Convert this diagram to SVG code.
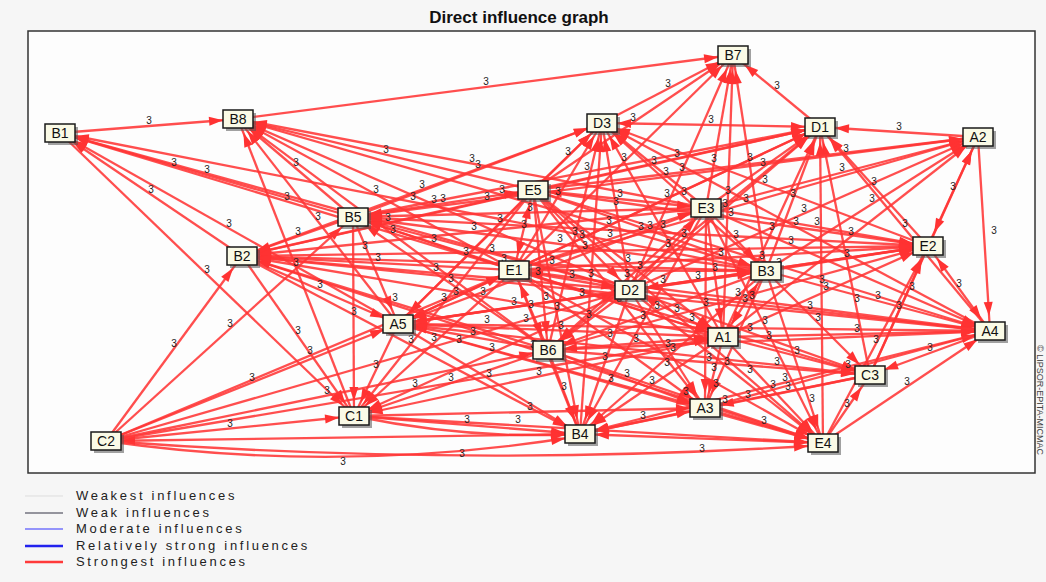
<svg xmlns="http://www.w3.org/2000/svg" width="1046" height="582" viewBox="0 0 1046 582">
<defs>
<marker id="ah" markerUnits="userSpaceOnUse" markerWidth="14" markerHeight="9" refX="29" refY="4.5" orient="auto-start-reverse" overflow="visible"><path d="M0,0 L14,4.5 L0,9 z" fill="#ff3232"/></marker>
<style>
.e line,.e path{stroke:#ff3535;stroke-width:2.3;stroke-opacity:0.88;fill:none;marker-end:url(#ah)}
.e .bi{marker-start:url(#ah)}
.lb text{font-family:"Liberation Sans",Arial,sans-serif;font-size:10px;fill:#222;text-anchor:middle}
.nd rect.s{fill:#555;opacity:0.55}
.nd rect.b{fill:#fafae6;stroke:#1a1a1a;stroke-width:1.5}
.nd text{font-family:"Liberation Sans",Arial,sans-serif;font-size:14px;fill:#111;text-anchor:middle}
.lg text{font-family:"Liberation Sans",Arial,sans-serif;font-size:13px;fill:#222;letter-spacing:2.7px}
</style>
</defs>
<rect x="0" y="0" width="1046" height="582" fill="#f6f6f6"/>
<text x="519" y="23" font-family="Liberation Sans,Arial,sans-serif" font-size="17" font-weight="bold" fill="#111" text-anchor="middle">Direct influence graph</text>
<rect x="28" y="31" width="1007" height="442" fill="#fdfdfd" stroke="#333" stroke-width="1.5"/>
<text transform="translate(1037,345) rotate(90)" font-family="Liberation Sans,Arial,sans-serif" font-size="9" fill="#444">© LIPSOR-EPITA-MICMAC</text>
<g id="connectors" class="e">
<line x1="60" y1="133" x2="238" y2="119"/>
<line x1="353" y1="217" x2="60" y2="133"/>
<line x1="766" y1="271" x2="60" y2="133"/>
<line x1="514" y1="270" x2="60" y2="133"/>
<line x1="242" y1="256" x2="60" y2="133"/>
<line x1="398" y1="324" x2="60" y2="133"/>
<line x1="630" y1="290" x2="60" y2="133"/>
<line x1="60" y1="133" x2="354" y2="416"/>
<line x1="238" y1="119" x2="733" y2="55"/>
<line x1="533" y1="190" x2="238" y2="119"/>
<line x1="706" y1="208" x2="238" y2="119"/>
<line x1="353" y1="217" x2="238" y2="119"/>
<line x1="514" y1="270" x2="238" y2="119"/>
<line x1="630" y1="290" x2="238" y2="119"/>
<line x1="766" y1="271" x2="238" y2="119"/>
<line x1="398" y1="324" x2="238" y2="119"/>
<line x1="548" y1="350" x2="238" y2="119"/>
<line x1="354" y1="416" x2="238" y2="119"/>
<line x1="602" y1="123" x2="733" y2="55"/>
<line x1="533" y1="190" x2="733" y2="55"/>
<line x1="630" y1="290" x2="733" y2="55"/>
<line x1="514" y1="270" x2="733" y2="55"/>
<line x1="706" y1="208" x2="733" y2="55"/>
<line x1="766" y1="271" x2="733" y2="55"/>
<line x1="723" y1="337" x2="733" y2="55"/>
<line x1="820" y1="127" x2="733" y2="55"/>
<line x1="533" y1="190" x2="602" y2="123"/>
<line class="bi" x1="602" y1="123" x2="820" y2="127"/>
<line x1="706" y1="208" x2="602" y2="123"/>
<line x1="353" y1="217" x2="602" y2="123"/>
<line x1="514" y1="270" x2="602" y2="123"/>
<line x1="630" y1="290" x2="602" y2="123"/>
<line x1="766" y1="271" x2="602" y2="123"/>
<line x1="723" y1="337" x2="602" y2="123"/>
<line x1="548" y1="350" x2="602" y2="123"/>
<line x1="928" y1="246" x2="602" y2="123"/>
<line x1="398" y1="324" x2="602" y2="123"/>
<line x1="242" y1="256" x2="602" y2="123"/>
<line x1="990" y1="331" x2="602" y2="123"/>
<line x1="580" y1="434" x2="602" y2="123"/>
<line x1="978" y1="137" x2="820" y2="127"/>
<line x1="533" y1="190" x2="820" y2="127"/>
<line x1="706" y1="208" x2="820" y2="127"/>
<line x1="766" y1="271" x2="820" y2="127"/>
<line x1="630" y1="290" x2="820" y2="127"/>
<line x1="928" y1="246" x2="820" y2="127"/>
<line x1="723" y1="337" x2="820" y2="127"/>
<line x1="990" y1="331" x2="820" y2="127"/>
<line x1="548" y1="350" x2="820" y2="127"/>
<line x1="870" y1="375" x2="820" y2="127"/>
<line x1="823" y1="443" x2="820" y2="127"/>
<line x1="514" y1="270" x2="820" y2="127"/>
<line x1="398" y1="324" x2="820" y2="127"/>
<line x1="242" y1="256" x2="820" y2="127"/>
<line x1="353" y1="217" x2="820" y2="127"/>
<line x1="533" y1="190" x2="978" y2="137"/>
<line x1="706" y1="208" x2="978" y2="137"/>
<line x1="766" y1="271" x2="978" y2="137"/>
<line class="bi" x1="928" y1="246" x2="978" y2="137"/>
<line x1="630" y1="290" x2="978" y2="137"/>
<line x1="978" y1="137" x2="990" y2="331"/>
<line x1="723" y1="337" x2="978" y2="137"/>
<line x1="514" y1="270" x2="978" y2="137"/>
<line x1="353" y1="217" x2="978" y2="137"/>
<line x1="870" y1="375" x2="978" y2="137"/>
<line x1="706" y1="208" x2="928" y2="246"/>
<line x1="766" y1="271" x2="928" y2="246"/>
<line x1="630" y1="290" x2="928" y2="246"/>
<line x1="723" y1="337" x2="928" y2="246"/>
<line class="bi" x1="990" y1="331" x2="928" y2="246"/>
<line x1="870" y1="375" x2="928" y2="246"/>
<line x1="823" y1="443" x2="928" y2="246"/>
<line x1="533" y1="190" x2="928" y2="246"/>
<line x1="514" y1="270" x2="928" y2="246"/>
<line x1="353" y1="217" x2="928" y2="246"/>
<line x1="398" y1="324" x2="928" y2="246"/>
<line x1="548" y1="350" x2="928" y2="246"/>
<line x1="242" y1="256" x2="928" y2="246"/>
<line x1="766" y1="271" x2="990" y2="331"/>
<line x1="723" y1="337" x2="990" y2="331"/>
<line x1="990" y1="331" x2="870" y2="375"/>
<line x1="823" y1="443" x2="990" y2="331"/>
<line x1="630" y1="290" x2="990" y2="331"/>
<line x1="706" y1="208" x2="990" y2="331"/>
<line x1="514" y1="270" x2="990" y2="331"/>
<line x1="548" y1="350" x2="990" y2="331"/>
<line x1="398" y1="324" x2="990" y2="331"/>
<line x1="705" y1="408" x2="990" y2="331"/>
<line x1="533" y1="190" x2="990" y2="331"/>
<line x1="823" y1="443" x2="870" y2="375"/>
<line x1="723" y1="337" x2="870" y2="375"/>
<line x1="766" y1="271" x2="870" y2="375"/>
<line x1="630" y1="290" x2="870" y2="375"/>
<line x1="514" y1="270" x2="870" y2="375"/>
<line x1="548" y1="350" x2="870" y2="375"/>
<line x1="398" y1="324" x2="870" y2="375"/>
<line x1="723" y1="337" x2="823" y2="443"/>
<line x1="705" y1="408" x2="823" y2="443"/>
<line class="bi" x1="580" y1="434" x2="823" y2="443"/>
<line x1="630" y1="290" x2="823" y2="443"/>
<line x1="766" y1="271" x2="823" y2="443"/>
<line x1="514" y1="270" x2="823" y2="443"/>
<line x1="548" y1="350" x2="823" y2="443"/>
<line x1="398" y1="324" x2="823" y2="443"/>
<line x1="706" y1="208" x2="823" y2="443"/>
<line x1="533" y1="190" x2="823" y2="443"/>
<line x1="354" y1="416" x2="823" y2="443"/>
<line x1="242" y1="256" x2="823" y2="443"/>
<line class="bi" x1="106" y1="441" x2="580" y2="434"/>
<line x1="354" y1="416" x2="580" y2="434"/>
<line class="bi" x1="705" y1="408" x2="580" y2="434"/>
<line x1="548" y1="350" x2="580" y2="434"/>
<line x1="723" y1="337" x2="580" y2="434"/>
<line x1="630" y1="290" x2="580" y2="434"/>
<line x1="514" y1="270" x2="580" y2="434"/>
<line x1="398" y1="324" x2="580" y2="434"/>
<line x1="766" y1="271" x2="580" y2="434"/>
<line x1="706" y1="208" x2="580" y2="434"/>
<line x1="533" y1="190" x2="580" y2="434"/>
<line x1="242" y1="256" x2="580" y2="434"/>
<line x1="990" y1="331" x2="580" y2="434"/>
<line x1="870" y1="375" x2="580" y2="434"/>
<line x1="723" y1="337" x2="705" y2="408"/>
<line x1="548" y1="350" x2="705" y2="408"/>
<line x1="630" y1="290" x2="705" y2="408"/>
<line x1="514" y1="270" x2="705" y2="408"/>
<line x1="398" y1="324" x2="705" y2="408"/>
<line x1="354" y1="416" x2="705" y2="408"/>
<line x1="766" y1="271" x2="705" y2="408"/>
<line x1="706" y1="208" x2="705" y2="408"/>
<line x1="533" y1="190" x2="705" y2="408"/>
<line x1="870" y1="375" x2="705" y2="408"/>
<line x1="106" y1="441" x2="354" y2="416"/>
<line x1="398" y1="324" x2="354" y2="416"/>
<line x1="548" y1="350" x2="354" y2="416"/>
<line x1="630" y1="290" x2="354" y2="416"/>
<line x1="514" y1="270" x2="354" y2="416"/>
<line x1="533" y1="190" x2="354" y2="416"/>
<line x1="353" y1="217" x2="354" y2="416"/>
<line x1="242" y1="256" x2="354" y2="416"/>
<line x1="723" y1="337" x2="354" y2="416"/>
<line x1="106" y1="441" x2="398" y2="324"/>
<line x1="106" y1="441" x2="548" y2="350"/>
<line x1="106" y1="441" x2="514" y2="270"/>
<line x1="106" y1="441" x2="242" y2="256"/>
<line x1="106" y1="441" x2="630" y2="290"/>
<line x1="106" y1="441" x2="723" y2="337"/>
<line x1="106" y1="441" x2="353" y2="217"/>
<line x1="242" y1="256" x2="398" y2="324"/>
<line x1="353" y1="217" x2="398" y2="324"/>
<line x1="533" y1="190" x2="398" y2="324"/>
<line class="bi" x1="514" y1="270" x2="398" y2="324"/>
<line x1="630" y1="290" x2="398" y2="324"/>
<line x1="548" y1="350" x2="398" y2="324"/>
<line x1="723" y1="337" x2="398" y2="324"/>
<line x1="766" y1="271" x2="398" y2="324"/>
<line x1="706" y1="208" x2="398" y2="324"/>
<line x1="353" y1="217" x2="242" y2="256"/>
<line x1="533" y1="190" x2="242" y2="256"/>
<line x1="514" y1="270" x2="242" y2="256"/>
<line x1="630" y1="290" x2="242" y2="256"/>
<line x1="766" y1="271" x2="242" y2="256"/>
<line x1="706" y1="208" x2="242" y2="256"/>
<line x1="548" y1="350" x2="242" y2="256"/>
<line x1="723" y1="337" x2="242" y2="256"/>
<line x1="990" y1="331" x2="242" y2="256"/>
<line class="bi" x1="533" y1="190" x2="353" y2="217"/>
<line x1="514" y1="270" x2="353" y2="217"/>
<line x1="630" y1="290" x2="353" y2="217"/>
<line x1="766" y1="271" x2="353" y2="217"/>
<line x1="706" y1="208" x2="353" y2="217"/>
<line x1="548" y1="350" x2="353" y2="217"/>
<line x1="723" y1="337" x2="353" y2="217"/>
<line class="bi" x1="533" y1="190" x2="514" y2="270"/>
<line x1="533" y1="190" x2="630" y2="290"/>
<line class="bi" x1="533" y1="190" x2="706" y2="208"/>
<line x1="533" y1="190" x2="766" y2="271"/>
<line x1="533" y1="190" x2="723" y2="337"/>
<line x1="533" y1="190" x2="548" y2="350"/>
<line class="bi" x1="514" y1="270" x2="630" y2="290"/>
<line x1="514" y1="270" x2="706" y2="208"/>
<line x1="514" y1="270" x2="766" y2="271"/>
<line x1="514" y1="270" x2="723" y2="337"/>
<line class="bi" x1="514" y1="270" x2="548" y2="350"/>
<line x1="630" y1="290" x2="706" y2="208"/>
<line class="bi" x1="630" y1="290" x2="766" y2="271"/>
<line class="bi" x1="630" y1="290" x2="723" y2="337"/>
<line x1="630" y1="290" x2="548" y2="350"/>
<line x1="706" y1="208" x2="766" y2="271"/>
<line x1="706" y1="208" x2="723" y2="337"/>
<line x1="706" y1="208" x2="548" y2="350"/>
<line class="bi" x1="766" y1="271" x2="723" y2="337"/>
<line x1="766" y1="271" x2="548" y2="350"/>
<line class="bi" x1="723" y1="337" x2="548" y2="350"/>
<path d="M106,441 Q340,475 580,436"/>
<path d="M106,441 Q470,468 823,445"/>
<path d="M354,416 Q470,440 580,434"/>
</g>
<g id="edge-labels" class="lb">
<text x="149" y="124">3</text><text x="207" y="173">3</text><text x="413" y="200">3</text><text x="287" y="200">3</text><text x="151" y="193">3</text><text x="229" y="227">3</text><text x="174" y="166">3</text><text x="207" y="273">3</text><text x="486" y="85">3</text><text x="386" y="153">3</text><text x="472" y="162">3</text><text x="296" y="166">3</text><text x="376" y="193">3</text><text x="434" y="203">3</text><text x="502" y="193">3</text><text x="318" y="220">3</text><text x="393" y="233">3</text><text x="296" y="266">3</text>
<text x="668" y="87">3</text><text x="633" y="121">3</text><text x="682" y="171">3</text><text x="624" y="161">3</text><text x="714" y="162">3</text><text x="750" y="161">3</text><text x="728" y="194">3</text><text x="777" y="89">3</text><text x="568" y="155">3</text><text x="711" y="123">3</text><text x="654" y="164">3</text><text x="478" y="168">3</text><text x="558" y="195">3</text><text x="616" y="205">3</text><text x="684" y="195">3</text><text x="663" y="228">3</text><text x="575" y="235">3</text><text x="765" y="183">3</text><text x="500" y="222">3</text><text x="422" y="188">3</text><text x="796" y="225">3</text><text x="591" y="277">3</text>
<text x="899" y="130">3</text><text x="677" y="157">3</text><text x="763" y="166">3</text><text x="793" y="197">3</text><text x="725" y="207">3</text><text x="874" y="185">3</text><text x="772" y="230">3</text><text x="905" y="227">3</text><text x="684" y="237">3</text><text x="857" y="302">3</text><text x="822" y="283">3</text><text x="667" y="197">3</text><text x="609" y="224">3</text><text x="487" y="200">3</text><text x="587" y="170">3</text>
<text x="846" y="152">3</text><text x="842" y="171">3</text><text x="872" y="202">3</text><text x="953" y="190">3</text><text x="804" y="212">3</text><text x="994" y="234">3</text><text x="851" y="235">3</text><text x="746" y="202">3</text><text x="666" y="175">3</text><text x="912" y="290">3</text>
<text x="817" y="225">3</text><text x="847" y="257">3</text><text x="779" y="266">3</text><text x="826" y="290">3</text><text x="959" y="287">3</text><text x="899" y="309">3</text><text x="876" y="343">3</text><text x="731" y="216">3</text><text x="721" y="256">3</text><text x="641" y="230">3</text><text x="663" y="283">3</text><text x="738" y="296">3</text><text x="585" y="249">3</text>
<text x="878" y="299">3</text><text x="857" y="332">3</text><text x="930" y="351">3</text><text x="907" y="385">3</text><text x="810" y="309">3</text><text x="791" y="244">3</text><text x="752" y="299">3</text><text x="769" y="339">3</text><text x="487" y="323">3</text><text x="848" y="368">3</text><text x="762" y="259">3</text>
<text x="847" y="407">3</text><text x="797" y="354">3</text><text x="818" y="321">3</text><text x="750" y="331">3</text><text x="692" y="321">3</text><text x="709" y="361">3</text><text x="777" y="365">3</text>
<text x="773" y="388">3</text><text x="764" y="424">3</text><text x="702" y="452">3</text><text x="727" y="365">3</text><text x="812" y="402">3</text><text x="748" y="398">3</text><text x="686" y="395">3</text><text x="611" y="382">3</text><text x="765" y="324">3</text><text x="750" y="373">3</text><text x="518" y="423">3</text><text x="533" y="348">3</text>
<text x="343" y="465">3</text><text x="462" y="457">3</text><text x="467" y="423">3</text><text x="643" y="419">3</text><text x="564" y="390">3</text><text x="652" y="384">3</text><text x="605" y="360">3</text><text x="489" y="377">3</text><text x="673" y="351">3</text><text x="643" y="319">3</text><text x="557" y="310">3</text><text x="411" y="343">3</text><text x="785" y="381">3</text><text x="725" y="403">3</text>
<text x="714" y="371">3</text><text x="627" y="377">3</text><text x="668" y="347">3</text><text x="610" y="337">3</text><text x="459" y="343">3</text><text x="530" y="410">3</text><text x="716" y="387">3</text><text x="706" y="306">3</text><text x="667" y="366">3</text><text x="788" y="390">3</text>
<text x="230" y="427">3</text><text x="376" y="368">3</text><text x="451" y="381">3</text><text x="492" y="351">3</text><text x="434" y="341">3</text><text x="444" y="301">3</text><text x="354" y="315">3</text><text x="298" y="334">3</text><text x="539" y="375">3</text>
<text x="252" y="381">3</text><text x="327" y="394">3</text><text x="310" y="354">3</text><text x="174" y="347">3</text><text x="526" y="322">3</text><text x="415" y="387">3</text><text x="230" y="327">3</text>
<text x="320" y="288">3</text><text x="365" y="249">3</text><text x="466" y="255">3</text><text x="456" y="295">3</text><text x="514" y="305">3</text><text x="473" y="335">3</text><text x="561" y="329">3</text><text x="582" y="296">3</text><text x="552" y="264">3</text>
<text x="298" y="235">3</text><text x="388" y="221">3</text><text x="378" y="261">3</text><text x="436" y="271">3</text><text x="504" y="262">3</text><text x="474" y="230">3</text><text x="395" y="301">3</text><text x="483" y="295">3</text><text x="616" y="292">3</text>
<text x="443" y="202">3</text><text x="434" y="242">3</text><text x="492" y="252">3</text><text x="560" y="242">3</text><text x="530" y="211">3</text><text x="451" y="282">3</text><text x="538" y="275">3</text>
<text x="524" y="228">3</text><text x="582" y="238">3</text><text x="620" y="197">3</text><text x="650" y="229">3</text><text x="628" y="262">3</text><text x="546" y="300">3</text><text x="572" y="278">3</text><text x="610" y="237">3</text><text x="640" y="269">3</text><text x="619" y="302">3</text><text x="531" y="308">3</text><text x="668" y="247">3</text><text x="698" y="279">3</text><text x="677" y="312">3</text><text x="589" y="318">3</text><text x="736" y="238">3</text><text x="715" y="271">3</text><text x="627" y="277">3</text><text x="745" y="302">3</text><text x="657" y="309">3</text><text x="636" y="342">3</text>
</g>
<g class="nd">
<g id="node-B7"><rect class="s" x="721" y="49" width="30" height="18"/><rect class="b" x="718" y="46" width="30" height="18"/><text x="733" y="60">B7</text></g>
<g id="node-B8"><rect class="s" x="226" y="113" width="30" height="18"/><rect class="b" x="223" y="110" width="30" height="18"/><text x="238" y="124">B8</text></g>
<g id="node-B1"><rect class="s" x="48" y="127" width="30" height="18"/><rect class="b" x="45" y="124" width="30" height="18"/><text x="60" y="138">B1</text></g>
<g id="node-D3"><rect class="s" x="590" y="117" width="30" height="18"/><rect class="b" x="587" y="114" width="30" height="18"/><text x="602" y="128">D3</text></g>
<g id="node-D1"><rect class="s" x="808" y="121" width="30" height="18"/><rect class="b" x="805" y="118" width="30" height="18"/><text x="820" y="132">D1</text></g>
<g id="node-A2"><rect class="s" x="966" y="131" width="30" height="18"/><rect class="b" x="963" y="128" width="30" height="18"/><text x="978" y="142">A2</text></g>
<g id="node-E5"><rect class="s" x="521" y="184" width="30" height="18"/><rect class="b" x="518" y="181" width="30" height="18"/><text x="533" y="195">E5</text></g>
<g id="node-B5"><rect class="s" x="341" y="211" width="30" height="18"/><rect class="b" x="338" y="208" width="30" height="18"/><text x="353" y="222">B5</text></g>
<g id="node-E3"><rect class="s" x="694" y="202" width="30" height="18"/><rect class="b" x="691" y="199" width="30" height="18"/><text x="706" y="213">E3</text></g>
<g id="node-B2"><rect class="s" x="230" y="250" width="30" height="18"/><rect class="b" x="227" y="247" width="30" height="18"/><text x="242" y="261">B2</text></g>
<g id="node-E2"><rect class="s" x="916" y="240" width="30" height="18"/><rect class="b" x="913" y="237" width="30" height="18"/><text x="928" y="251">E2</text></g>
<g id="node-E1"><rect class="s" x="502" y="264" width="30" height="18"/><rect class="b" x="499" y="261" width="30" height="18"/><text x="514" y="275">E1</text></g>
<g id="node-B3"><rect class="s" x="754" y="265" width="30" height="18"/><rect class="b" x="751" y="262" width="30" height="18"/><text x="766" y="276">B3</text></g>
<g id="node-D2"><rect class="s" x="618" y="284" width="30" height="18"/><rect class="b" x="615" y="281" width="30" height="18"/><text x="630" y="295">D2</text></g>
<g id="node-A5"><rect class="s" x="386" y="318" width="30" height="18"/><rect class="b" x="383" y="315" width="30" height="18"/><text x="398" y="329">A5</text></g>
<g id="node-A1"><rect class="s" x="711" y="331" width="30" height="18"/><rect class="b" x="708" y="328" width="30" height="18"/><text x="723" y="342">A1</text></g>
<g id="node-A4"><rect class="s" x="978" y="325" width="30" height="18"/><rect class="b" x="975" y="322" width="30" height="18"/><text x="990" y="336">A4</text></g>
<g id="node-B6"><rect class="s" x="536" y="344" width="30" height="18"/><rect class="b" x="533" y="341" width="30" height="18"/><text x="548" y="355">B6</text></g>
<g id="node-C3"><rect class="s" x="858" y="369" width="30" height="18"/><rect class="b" x="855" y="366" width="30" height="18"/><text x="870" y="380">C3</text></g>
<g id="node-C1"><rect class="s" x="342" y="410" width="30" height="18"/><rect class="b" x="339" y="407" width="30" height="18"/><text x="354" y="421">C1</text></g>
<g id="node-A3"><rect class="s" x="693" y="402" width="30" height="18"/><rect class="b" x="690" y="399" width="30" height="18"/><text x="705" y="413">A3</text></g>
<g id="node-B4"><rect class="s" x="568" y="428" width="30" height="18"/><rect class="b" x="565" y="425" width="30" height="18"/><text x="580" y="439">B4</text></g>
<g id="node-E4"><rect class="s" x="811" y="437" width="30" height="18"/><rect class="b" x="808" y="434" width="30" height="18"/><text x="823" y="448">E4</text></g>
<g id="node-C2"><rect class="s" x="94" y="435" width="30" height="18"/><rect class="b" x="91" y="432" width="30" height="18"/><text x="106" y="446">C2</text></g>
</g>
<g id="legend" class="lg">
<line x1="25" y1="496" x2="63" y2="496" stroke="#dddddd" stroke-width="1"/>
<line x1="25" y1="513" x2="63" y2="513" stroke="#333344" stroke-width="1"/>
<line x1="25" y1="529" x2="63" y2="529" stroke="#3333ff" stroke-width="1"/>
<line x1="25" y1="546" x2="63" y2="546" stroke="#2222ee" stroke-width="2.5"/>
<line x1="25" y1="562" x2="63" y2="562" stroke="#ff3a3a" stroke-width="2.5"/>
<text x="76" y="500">Weakest influences</text>
<text x="76" y="517">Weak influences</text>
<text x="76" y="533">Moderate influences</text>
<text x="76" y="550">Relatively strong influences</text>
<text x="76" y="566">Strongest influences</text>
</g>
</svg>
